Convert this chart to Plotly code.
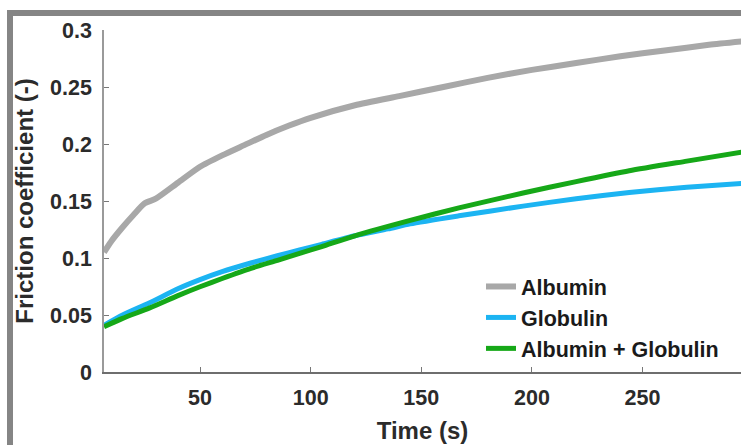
import plotly.graph_objects as go

# Friction coefficient over time for the three protein solutions
t_alb = [6.6, 10, 15, 20, 25, 30, 40, 50, 60, 70, 80, 90, 100, 120, 140, 160,
         180, 200, 220, 240, 260, 280, 295]
mu_alb = [0.105, 0.115, 0.127, 0.138, 0.148, 0.152, 0.166, 0.180, 0.190, 0.199,
          0.208, 0.216, 0.223, 0.234, 0.242, 0.250, 0.258, 0.265, 0.271, 0.277,
          0.282, 0.287, 0.290]

t_glob = [6.6, 15, 27, 40, 50, 60, 73, 85, 95, 105, 120, 135, 145, 167, 196,
          220, 244, 270, 295]
mu_glob = [0.041, 0.050, 0.0605, 0.073, 0.081, 0.088, 0.0956, 0.102, 0.107,
           0.112, 0.1195, 0.1255, 0.130, 0.137, 0.1455, 0.152, 0.1575, 0.162,
           0.1655]

t_mix = [6.6, 15, 27, 40, 50, 60, 73, 85, 95, 105, 120, 145, 167, 196, 220,
         244, 270, 295]
mu_mix = [0.0397, 0.047, 0.056, 0.067, 0.0748, 0.082, 0.0909, 0.098, 0.104,
          0.110, 0.1195, 0.133, 0.144, 0.157, 0.167, 0.1765, 0.185, 0.193]

series_names = ["Albumin", "Globulin", "Albumin + Globulin"]

x_ticks = [50, 100, 150, 200, 250]
y_ticks = [0, 0.05, 0.1, 0.15, 0.2, 0.25, 0.3]
y_tick_text = ["0", "0.05", "0.1", "0.15", "0.2", "0.25", "0.3"]

W, H = 741, 445
ML, MR, MT, MB = 104, 0, 30, 73
PW, PH = W - ML - MR, H - MT - MB

def px_x(p):
    return (p - ML) / PW

def px_y(p):
    return (H - MB - p) / PH

FONT = "Liberation Sans, Arial, sans-serif"
TXT = "#2b2b2b"

fig = go.Figure()
styles = [("#a8a8a8", 6), ("#1cb4f2", 5), ("#16a818", 5)]
data = [(t_alb, mu_alb), (t_glob, mu_glob), (t_mix, mu_mix)]
for (tx, ty), name, (col, w) in zip(data, series_names, styles):
    fig.add_trace(go.Scatter(x=tx, y=ty, mode="lines", name=name,
                             legendgroup=name,
                             line=dict(color=col, width=w, shape="spline",
                                       smoothing=0.6)))

# grey frame along the top and left edge
frame = "#858585"
fig.add_shape(type="rect", xref="paper", yref="paper",
              x0=px_x(7), x1=px_x(742), y0=px_y(16), y1=px_y(10),
              fillcolor=frame, line_width=0, layer="above")
fig.add_shape(type="rect", xref="paper", yref="paper",
              x0=px_x(7), x1=px_x(13), y0=px_y(446), y1=px_y(10),
              fillcolor=frame, line_width=0, layer="above")

fig.update_layout(
    width=W, height=H,
    margin=dict(l=ML, r=MR, t=MT, b=MB),
    paper_bgcolor="white", plot_bgcolor="white",
    font=dict(family=FONT, color=TXT),
    showlegend=True,
    legend=dict(x=px_x(481), y=px_y(266), xanchor="left", yanchor="top",
                bgcolor="rgba(0,0,0,0)", tracegroupgap=0,
                font=dict(family=FONT, size=21.5, color="#1a1a1a",
                          weight="bold")),
    xaxis=dict(range=[6.6, 294.5], tickvals=x_ticks, ticks="inside",
               ticklen=5, tickcolor="#777", showgrid=False, zeroline=False,
               showline=True, linecolor="#6e6e6e", linewidth=1.5,
               ticklabelstandoff=5,
               tickfont=dict(size=21.5, weight="bold", color=TXT),
               title=dict(text="Time (s)", standoff=14,
                          font=dict(size=24, weight="bold", color=TXT))),
    yaxis=dict(range=[0, 0.3], tickvals=y_ticks, ticktext=y_tick_text,
               ticks="inside", ticklen=5, tickcolor="#777", showgrid=False,
               zeroline=False, showline=True, linecolor="#9a9a9a",
               linewidth=1.5, ticklabelstandoff=6,
               tickfont=dict(size=21.5, weight="bold", color=TXT),
               title=dict(text="Friction coefficient (-)", standoff=10,
                          font=dict(size=24, weight="bold", color=TXT))),
)

fig.write_html("out.html")
